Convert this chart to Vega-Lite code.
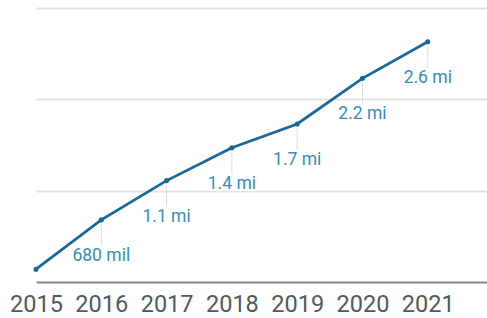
{
  "$schema": "https://vega.github.io/schema/vega-lite/v6.json",
  "width": 451,
  "height": 274,
  "autosize": "none",
  "padding": {"left": 36, "top": 8, "right": 0, "bottom": 36},
  "background": "white",
  "config": {"view": {"stroke": null}, "font": "Roboto"},
  "data": {"values": [
    {"year": 2015, "value": 0.14, "label": ""},
    {"year": 2016, "value": 0.68, "label": "680 mil"},
    {"year": 2017, "value": 1.11, "label": "1.1 mi"},
    {"year": 2018, "value": 1.47, "label": "1.4 mi"},
    {"year": 2019, "value": 1.73, "label": "1.7 mi"},
    {"year": 2020, "value": 2.23, "label": "2.2 mi"},
    {"year": 2021, "value": 2.63, "label": "2.6 mi"}
  ]},
  "encoding": {
    "x": {"field": "year", "type": "quantitative",
      "scale": {"domain": [2015, 2021.907], "nice": false, "zero": false},
      "axis": {"values": [2015, 2016, 2017, 2018, 2019, 2020, 2021], "format": "d", "title": null,
        "grid": false, "ticks": false, "domainColor": "#888888", "domainWidth": 2,
        "labelFontSize": 23.5, "labelColor": "#4f5a62", "labelPadding": 10, "labelFlush": false}},
    "y": {"field": "value", "type": "quantitative",
      "scale": {"domain": [0, 3], "nice": false},
      "axis": {"values": [1, 2, 3], "title": null, "labels": false, "ticks": false, "domain": false,
        "grid": true, "gridColor": "#e4e4e4", "gridWidth": 2}}
  },
  "layer": [
    {"mark": {"type": "rule", "color": "#dddddd", "strokeWidth": 1, "yOffset": 4, "y2Offset": 26},
     "transform": [{"filter": "datum.label != ''"}],
     "encoding": {"y2": {"field": "value"}}},
    {"mark": {"type": "line", "color": "#1b6796", "strokeWidth": 2.8}},
    {"mark": {"type": "circle", "color": "#1b6796", "opacity": 1, "size": 26}},
    {"mark": {"type": "text", "fontSize": 17.5, "dy": 36, "baseline": "middle", "align": "center",
      "stroke": "white", "strokeWidth": 4, "color": "white"},
     "transform": [{"filter": "datum.label != ''"}],
     "encoding": {"text": {"field": "label"}}},
    {"mark": {"type": "text", "fontSize": 17.5, "dy": 36, "baseline": "middle", "align": "center",
      "color": "#3a8cb6"},
     "transform": [{"filter": "datum.label != ''"}],
     "encoding": {"text": {"field": "label"}}}
  ]
}
